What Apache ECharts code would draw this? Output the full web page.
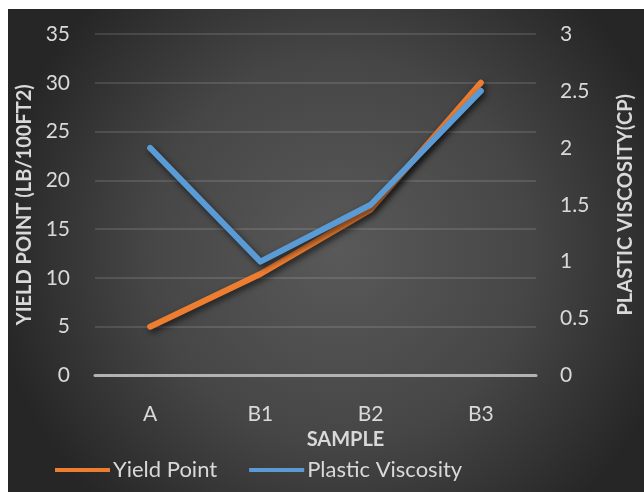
<!DOCTYPE html>
<html>
<head>
<meta charset="utf-8">
<script src="https://cdn.jsdelivr.net/npm/echarts@6/dist/echarts.min.js"></script>
<style>
  html, body { margin: 0; padding: 0; background: #ffffff; }
  #chart { width: 644px; height: 492px; }
</style>
</head>
<body>
<div id="chart"></div>
<script>
// Sample categories and measured values
const samples = ['A', 'B1', 'B2', 'B3'];
const yieldPoint = [5, 10.4, 17, 30];          // lb/100ft2, left axis
const plasticViscosity = [2, 1, 1.5, 2.5];     // cP, right axis

const seriesNames = ['Yield Point', 'Plastic Viscosity'];
const leftTicks = { min: 0, max: 35, interval: 5 };
const rightTicks = { min: 0, max: 3, interval: 0.5 };

const FONT = 'Lato';
const TEXT = '#d9d9d9';

const chart = echarts.init(document.getElementById('chart'), null, { renderer: 'canvas' });

const lineShadow = {
  shadowColor: 'rgba(0,0,0,0.65)',
  shadowBlur: 6,
  shadowOffsetX: 2,
  shadowOffsetY: 3
};

chart.setOption({
  animation: false,
  backgroundColor: '#ffffff',
  graphic: [{
    type: 'rect',
    z: -100,
    silent: true,
    shape: { x: 8, y: 9, width: 636, height: 483 },
    style: {
      fill: {
        type: 'radial', x: 0.52, y: 0.5, r: 0.72,
        colorStops: [
          { offset: 0, color: '#595959' },
          { offset: 0.55, color: '#464646' },
          { offset: 1, color: '#262626' }
        ]
      }
    }
  }],
  grid: { left: 95, right: 99, top: 34, bottom: 116.5, containLabel: false },
  legend: {
    data: seriesNames,
    left: 55,
    top: 459,
    padding: 0,
    icon: 'rect',
    itemWidth: 55,
    itemHeight: 4,
    itemGap: 32,
    textStyle: { color: TEXT, fontFamily: FONT, fontSize: 22, padding: [0, 0, 0, -2] }
  },
  xAxis: {
    type: 'category',
    data: samples,
    boundaryGap: true,
    name: 'SAMPLE',
    nameLocation: 'middle',
    nameGap: 46,
    nameTextStyle: { color: TEXT, fontFamily: FONT, fontWeight: 'bold', fontSize: 20, padding: [0, 0, 0, 60] },
    axisLine: { show: true, lineStyle: { color: '#b3b3b3', width: 3 } },
    axisTick: { show: false },
    axisLabel: { color: TEXT, fontFamily: FONT, fontSize: 21, margin: 28 },
    splitLine: { show: false }
  },
  yAxis: [{
    type: 'value',
    position: 'left',
    min: leftTicks.min, max: leftTicks.max, interval: leftTicks.interval,
    name: 'YIELD POINT (LB/100FT2)',
    nameLocation: 'middle',
    nameRotate: 90,
    nameGap: 57,
    nameTextStyle: { color: TEXT, fontFamily: FONT, fontWeight: 'bold', fontSize: 20 },
    axisLine: { show: false },
    axisTick: { show: false },
    axisLabel: { color: TEXT, fontFamily: FONT, fontSize: 21, margin: 25 },
    splitLine: { show: true, lineStyle: { color: 'rgba(255,255,255,0.16)', width: 1.5 } }
  }, {
    type: 'value',
    position: 'right',
    min: rightTicks.min, max: rightTicks.max, interval: rightTicks.interval,
    name: 'PLASTIC VISCOSITY(CP)',
    nameLocation: 'middle',
    nameRotate: 90,
    nameGap: 80,
    nameTextStyle: { color: TEXT, fontFamily: FONT, fontWeight: 'bold', fontSize: 20 },
    axisLine: { show: false },
    axisTick: { show: false },
    axisLabel: { color: TEXT, fontFamily: FONT, fontSize: 21, margin: 24 },
    splitLine: { show: false }
  }],
  series: [{
    name: seriesNames[0],
    type: 'line',
    yAxisIndex: 0,
    data: yieldPoint,
    showSymbol: false,
    symbol: 'none',
    color: '#ED7D31',
    lineStyle: Object.assign({ color: '#ED7D31', width: 6, cap: 'round', join: 'round' }, lineShadow),
    z: 3
  }, {
    name: seriesNames[1],
    type: 'line',
    yAxisIndex: 1,
    data: plasticViscosity,
    showSymbol: false,
    symbol: 'none',
    color: '#5B9BD5',
    lineStyle: Object.assign({ color: '#5B9BD5', width: 6, cap: 'round', join: 'round' }, lineShadow),
    z: 4
  }]
});
</script>
</body>
</html>
